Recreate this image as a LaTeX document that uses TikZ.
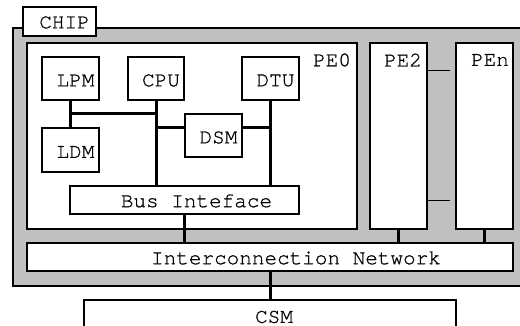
\documentclass[tikz,border=0pt]{standalone}
\usepackage{fontspec}
\setmonofont{TeX Gyre Cursor}[FakeBold=0.8]
\usetikzlibrary{positioning,calc}
\definecolor{chipgray}{HTML}{C0C0C0}

\begin{document}
\begin{tikzpicture}[x=0.5pt,y=-0.5pt,
    box/.style={draw, fill=white, line width=0.65pt, inner sep=0pt},
    tag/.style={inner sep=0pt, font=\ttfamily\fontsize{10.5}{12}\selectfont},
    bus/.style={line width=1.5pt},
    link/.style={line width=0.4pt}]
  \useasboundingbox (0,0) rectangle (520,326);
  \clip (0,0) rectangle (520,326);
  % chip substrate
  \draw[fill=chipgray, line width=0.75pt] (13,28) rectangle (540,286);
  \node[box, minimum width=36.5pt, minimum height=14.5pt] (chip) at (59.5,21.5) {};
  % processing elements
  \node[box, minimum width=165pt, minimum height=93pt] (pe0) at (192,136) {};
  \node[box, minimum width=28.5pt, minimum height=93pt] (pe2) at (398.5,136) {};
  \node[box, minimum width=28.5pt, minimum height=93pt] (pen) at (484.5,136) {};
  % units inside PE0
  \node[box, minimum width=28.5pt, minimum height=21.5pt] (lpm) at (70.5,78.5) {};
  \node[box, minimum width=28pt, minimum height=21.5pt] (cpu) at (156,78.5) {};
  \node[box, minimum width=28.5pt, minimum height=21.5pt] (dtu) at (270.5,78.5) {};
  \node[box, minimum width=28.5pt, minimum height=22pt] (ldm) at (70.5,150) {};
  \node[box, minimum width=28.5pt, minimum height=21.5pt] (dsm) at (213.5,135.5) {};
  \node[box, minimum width=114.5pt, minimum height=14pt] (bif) at (184.5,200) {};
  \node[box, minimum width=243pt, minimum height=14pt] (icn) at (270,257) {};
  \node[box, minimum width=186pt, minimum height=17pt] (csm) at (270,317) {};
  % names, set a little right of centre
  \node[tag] (chipname) at ($(chip)+(5,1)$) {CHIP};
  \node[tag] (pe0name) at (332,60) {PE0};
  \node[tag] (pe2name) at (403,60) {PE2};
  \node[tag] (penname) at (490,60) {PEn};
  \node[tag] (lpmname) at ($(lpm)+(5,2)$) {LPM};
  \node[tag] (cpuname) at ($(cpu)+(5,2)$) {CPU};
  \node[tag] (dtuname) at ($(dtu)+(5,2)$) {DTU};
  \node[tag] (ldmname) at ($(ldm)+(5,2)$) {LDM};
  \node[tag] (dsmname) at ($(dsm)+(5,2)$) {DSM};
  \node[tag] (bifname) at ($(bif)+(12,1)$) {Bus Inteface};
  \node[tag] (icnname) at ($(icn)+(26,1)$) {Interconnection Network};
  \node[tag] (csmname) at ($(csm)+(4,0)$) {CSM};
  % local buses
  \coordinate (dsmtap) at ($(dsm.north west)!0.33!(dsm.south west)$);
  \draw[bus] (lpm.south) -- (ldm.north);
  \draw[bus] (lpm.south |- dsm.north) -- (cpu.south |- dsm.north);
  \draw[bus] (cpu.south) -- (cpu.south |- bif.north);
  \draw[bus] (dtu.south) -- (dtu.south |- bif.north);
  \draw[bus] (cpu.south |- dsmtap) -- (dsmtap);
  \draw[bus] (dsmtap -| dsm.east) -- (dsmtap -| dtu.south);
  % links to the network and shared memory
  \draw[bus] (bif.south) -- (bif.south |- icn.north);
  \draw[bus] (pe2.south) -- (pe2.south |- icn.north);
  \draw[bus] (pen.south) -- (pen.south |- icn.north);
  \draw[bus] (icn.south) -- (icn.south |- csm.north);
  % elided PEs between PE2 and PEn
  \coordinate (gaptop) at ($(pe2.north east)+(0,28)$);
  \coordinate (gapbot) at ($(pe2.south east)+(0,-29)$);
  \draw[link] (gaptop) -- +(22,0);
  \draw[link] (gapbot) -- +(22,0);
\end{tikzpicture}
\end{document}
